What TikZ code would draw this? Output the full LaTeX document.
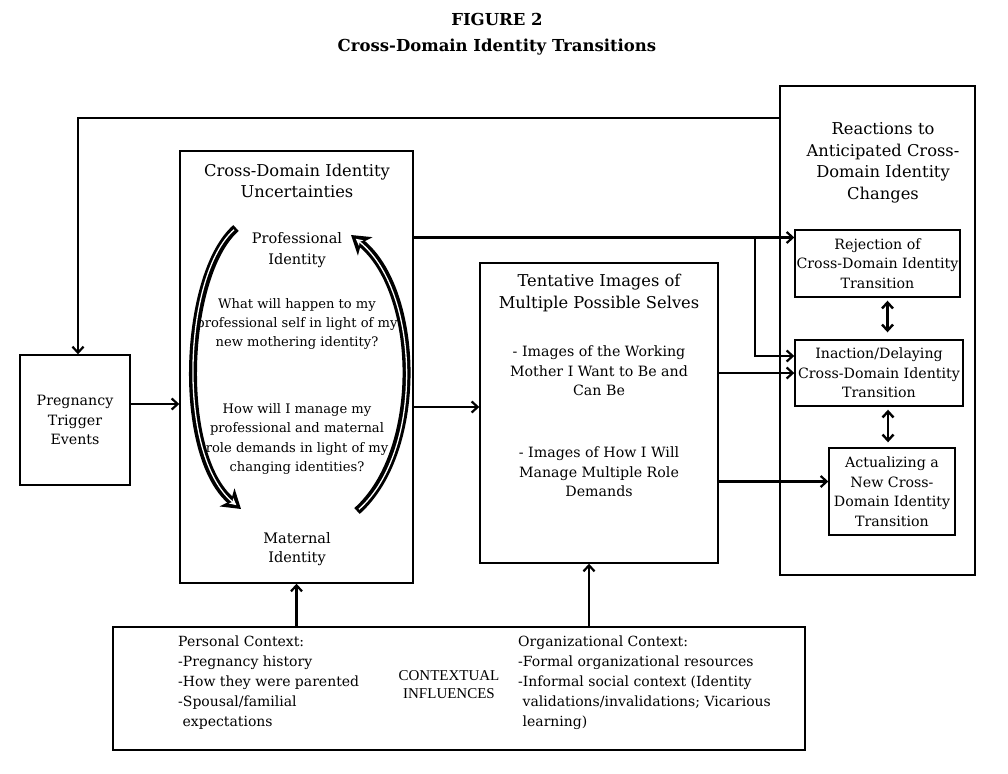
\documentclass[tikz,border=0pt]{standalone}
\usepackage{fontspec}
\setmainfont{DejaVu Serif}
\newfontfamily\capsfont{Liberation Serif}
\usetikzlibrary{arrows.meta,positioning}

\begin{document}
\begin{tikzpicture}[
  x=1pt, y=-1pt,
  font=\fontsize{14.2}{19.5}\selectfont,
  box/.style={rectangle, draw=black, line width=1.4pt, inner sep=0pt, align=center},
  txt/.style={align=center, inner sep=0pt},
  head/.style={txt, font=\fontsize{16.3}{21.5}\selectfont},
  question/.style={txt, font=\fontsize{13.1}{19.3}\selectfont},
  arrow/.style={-{Straight Barb[length=6pt,width=11pt]}, line width=2.2pt},
  twoway/.style={{Straight Barb[length=6pt,width=11pt]}-{Straight Barb[length=6pt,width=11pt]}, line width=2.4pt},
  arcout/.style={line width=8pt, -{Stealth[length=18pt,width=23pt,inset=5pt]}},
  arcin/.style={white, line width=1.3pt, shorten <=2.5pt, shorten >=6pt, -{Stealth[length=7pt,width=7pt,inset=2pt]}}
]
\useasboundingbox (0,0) rectangle (1008,773);

% title
\node[txt, font=\fontsize{16.5}{26}\selectfont\bfseries] (title) at (497,34) {FIGURE 2\\Cross-Domain Identity Transitions};

% boxes
\node[box, minimum width=110pt, minimum height=130pt] (trigger) at (75,420) {Pregnancy\\Trigger\\Events};
\node[box, minimum width=233pt, minimum height=432pt] (uncert) at (296.5,367) {};
\node[box, minimum width=238pt, minimum height=300pt] (images) at (599,413) {};
\node[box, minimum width=195pt, minimum height=489pt] (reactions) at (877.5,330.5) {};
\node[box, minimum width=165pt, minimum height=67pt] (reject) at (877.5,263.5) {Rejection of\\Cross-Domain Identity\\Transition};
\node[box, minimum width=168pt, minimum height=66pt] (inaction) at (879,373) {Inaction/Delaying\\Cross-Domain Identity\\Transition};
\node[box, minimum width=126pt, minimum height=87pt] (actual) at (892,491.5) {Actualizing a\\New Cross-\\Domain Identity\\Transition};
\node[box, minimum width=692pt, minimum height=123pt] (context) at (459,688.5) {};

% texts in the boxes
\node[head] (uncerttitle) at (297,181) {Cross-Domain Identity\\Uncertainties};
\node[txt, font=\fontsize{14.5}{20.5}\selectfont] (prof) at (297,250) {Professional\\Identity};
\node[question] (q1) at (297,324) {What will happen to my\\professional self in light of my\\new mothering identity?};
\node[question] (q2) at (297,439) {How will I manage my\\professional and maternal\\role demands in light of my\\changing identities?};
\node[txt, font=\fontsize{14.5}{19}\selectfont] (mat) at (297,549) {Maternal\\Identity};
\node[head] (imagestitle) at (599,293) {Tentative Images of\\Multiple Possible Selves};
\node[txt] (item1) at (599,371) {- Images of the Working\\Mother I Want to Be and\\Can Be};
\node[txt] (item2) at (599,472) {- Images of How I Will\\Manage Multiple Role\\Demands};
\node[head] (reactionstitle) at (883,163) {Reactions to\\Anticipated Cross-\\Domain Identity\\Changes};
\node[txt, align=left, anchor=north west, font=\fontsize{14}{19.8}\selectfont] (personal) at (178,636) {Personal Context:\\-Pregnancy history\\-How they were parented\\-Spousal/familial\\\ expectations};
\node[txt, font=\capsfont\fontsize{15}{18}\selectfont] (influences) at (449,685) {CONTEXTUAL\\INFLUENCES};
\node[txt, align=left, anchor=north west, font=\fontsize{14}{19.8}\selectfont] (org) at (518,636) {Organizational Context:\\-Formal organizational resources\\-Informal social context (Identity\\\ validations/invalidations; Vicarious\\\ learning)};

% cycle between the two identities
\draw[arcout] (236,228) .. controls (183,275) and (176,455) .. (241,509);
\draw[arcin] (236,228) .. controls (183,275) and (176,455) .. (241,509);
\draw[arcout] (357,511) .. controls (425,450) and (420,290) .. (351,235);
\draw[arcin] (357,511) .. controls (425,450) and (420,290) .. (351,235);

% connectors
\draw[arrow] ([yshift=-33pt]reactions.north west) -| ([xshift=3pt]trigger.north);
\draw[arrow] ([yshift=16pt]trigger.east) -- ([yshift=16pt]trigger.east -| uncert.west);
\draw[arrow] ([yshift=-40pt]uncert.east) -- ([yshift=-40pt]uncert.east -| images.west);
\draw[arrow] ([yshift=26pt]reject.west -| uncert.east) -- ([yshift=26pt]reject.west);
\coordinate (split) at (755,237);
\draw[arrow] (split) |- ([yshift=17pt]inaction.west);
\draw[arrow] ([yshift=40pt]images.east) -- ([yshift=40pt]images.east -| inaction.west);
\draw[arrow] ([yshift=10pt]actual.west -| images.east) -- ([yshift=10pt]actual.west);
\draw[twoway] ([xshift=10pt,yshift=-3pt]reject.south) -- ([xshift=10pt,yshift=7pt]reject.south |- inaction.north);
\draw[twoway] ([xshift=9pt,yshift=-3pt]inaction.south) -- ([xshift=9pt,yshift=5pt]inaction.south |- actual.north);
\draw[arrow] (context.north -| uncert.south) -- (uncert.south);
\draw[arrow] ([xshift=-10pt]context.north -| images.south) -- ([xshift=-10pt]images.south);
\end{tikzpicture}
\end{document}
